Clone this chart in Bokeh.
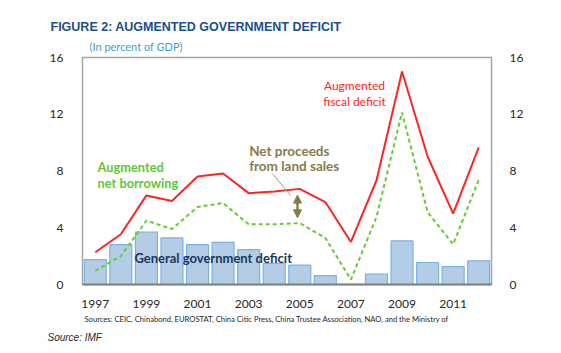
from bokeh.plotting import figure
from bokeh.models import (Range1d, LinearAxis, Label, FixedTicker, Arrow, NormalHead,
                          ColumnDataSource, Title)
from bokeh.embed import file_html
from bokeh.resources import INLINE

years = list(range(1997, 2013))
gov_deficit = [1.76, 2.81, 3.70, 3.28, 2.81, 2.97, 2.46, 1.48, 1.36, 0.63, 0.0, 0.73, 3.07, 1.55, 1.26, 1.66]
aug_fiscal = [2.27, 3.54, 6.28, 5.88, 7.61, 7.82, 6.44, 6.55, 6.74, 5.81, 3.00, 7.33, 15.01, 9.02, 4.99, 9.67]
aug_borrow = [0.96, 2.00, 4.50, 3.91, 5.46, 5.74, 4.24, 4.24, 4.33, 3.28, 0.35, 4.75, 12.13, 5.10, 2.83, 7.38]
y_ticks = [0, 4, 8, 12, 16]
x_ticks = [1997, 1999, 2001, 2003, 2005, 2007, 2009, 2011]

FONT = "Lato"
p = figure(width=561, height=353, output_backend="svg", toolbar_location=None,
           x_range=Range1d(1996.5, 2012.5), y_range=Range1d(0, 16),
           min_border_left=82, min_border_right=70, min_border_top=57, min_border_bottom=69)
p.xgrid.visible = False
p.ygrid.visible = False
p.outline_line_color = "#a6a6a6"
p.outline_line_width = 1.5
p.background_fill_color = "white"
p.border_fill_color = "white"

for ax in [p.xaxis[0], p.yaxis[0]]:
    ax.major_tick_line_color = None
    ax.minor_tick_line_color = None
    ax.major_label_text_font = FONT
    ax.major_label_text_font_size = "12px"
    ax.major_label_text_color = "#262626"
p.xaxis.ticker = FixedTicker(ticks=x_ticks)
p.xaxis.axis_line_color = "#808080"
p.xaxis.axis_line_width = 2
p.xaxis.major_label_standoff = 9
p.yaxis.ticker = FixedTicker(ticks=y_ticks)
p.yaxis.axis_line_color = None
p.yaxis.major_label_standoff = 13

ra = LinearAxis(ticker=FixedTicker(ticks=y_ticks))
ra.axis_line_color = None
ra.major_tick_line_color = None
ra.minor_tick_line_color = None
ra.major_label_text_font = FONT
ra.major_label_text_font_size = "12px"
ra.major_label_text_color = "#262626"
ra.major_label_standoff = 12
p.add_layout(ra, "right")

src = ColumnDataSource(dict(x=years, g=gov_deficit, f=aug_fiscal, b=aug_borrow))
p.vbar(x="x", top="g", width=0.86, source=src, fill_color="#b3cde6",
       line_color="#7cb1e0", line_width=1.2)
p.line("x", "f", source=src, line_color="#ff2424", line_width=2)
p.line("x", "b", source=src, line_color="#66cc33", line_width=2, line_dash="4 3")

# leader and double arrow
p.segment(x0=[2003.93], y0=[7.82], x1=[2004.64], y1=[6.27], line_color="#a59d7a", line_width=1)
olive = "#857b4e"
p.add_layout(Arrow(x_start=2004.91, y_start=5.5, x_end=2004.91, y_end=6.30,
                   line_color=olive, line_width=2.5,
                   end=NormalHead(size=8, fill_color=olive, line_color=olive)))
p.add_layout(Arrow(x_start=2004.91, y_start=5.5, x_end=2004.91, y_end=4.70,
                   line_color=olive, line_width=2.5,
                   end=NormalHead(size=8, fill_color=olive, line_color=olive)))

def lab(x, y, text, color, size="13px", style="bold", align="left", font=FONT):
    p.add_layout(Label(x=x, y=y, text=text, text_color=color, text_font_size=size,
                       text_font_style=style, text_align=align, text_baseline="middle",
                       text_font=font))

lab(1997.09, 8.25, "Augmented", "#5cc836", size="12.8px")
lab(1997.09, 7.12, "net borrowing", "#5cc836", size="12.8px")
lab(2007.14, 14.03, "Augmented", "#ff2424", size="12px", style="normal", align="center")
lab(2007.14, 12.90, "fiscal deficit", "#ff2424", size="12px", style="normal", align="center")
lab(2003.02, 9.44, "Net proceeds", olive, size="13.5px")
lab(2003.02, 8.32, "from land sales", olive, size="13.5px")
lab(1998.53, 1.90, "General government deficit", "#17375e", size="13px")

# titles (above) and source notes (below)
sub = Title(text="(In percent of GDP)", align="left", offset=7, text_color="#3ca0d0",
            text_font=FONT, text_font_size="11px", text_font_style="normal", standoff=10)
main = Title(text="FIGURE 2: AUGMENTED GOVERNMENT DEFICIT", align="left", offset=-32,
             text_color="#1b4f8a", text_font="Liberation Sans", text_font_size="12.5px",
             text_font_style="bold", standoff=-2)
p.add_layout(sub, "above")
p.add_layout(main, "above")

src_note = Title(text="Sources: CEIC, Chinabond, EUROSTAT, China Citic Press, China Trustee Association, NAO, and the Ministry of",
                 align="left", offset=2, text_color="#262626", text_font=FONT,
                 text_font_size="7.6px", text_font_style="normal", standoff=2)
imf = Title(text="Source: IMF", align="left", offset=-35, text_color="#262626",
            text_font="Liberation Sans", text_font_size="10px", text_font_style="italic", standoff=11)
p.add_layout(src_note, "below")
p.add_layout(imf, "below")

open("out.html", "w").write(file_html(p, INLINE))
